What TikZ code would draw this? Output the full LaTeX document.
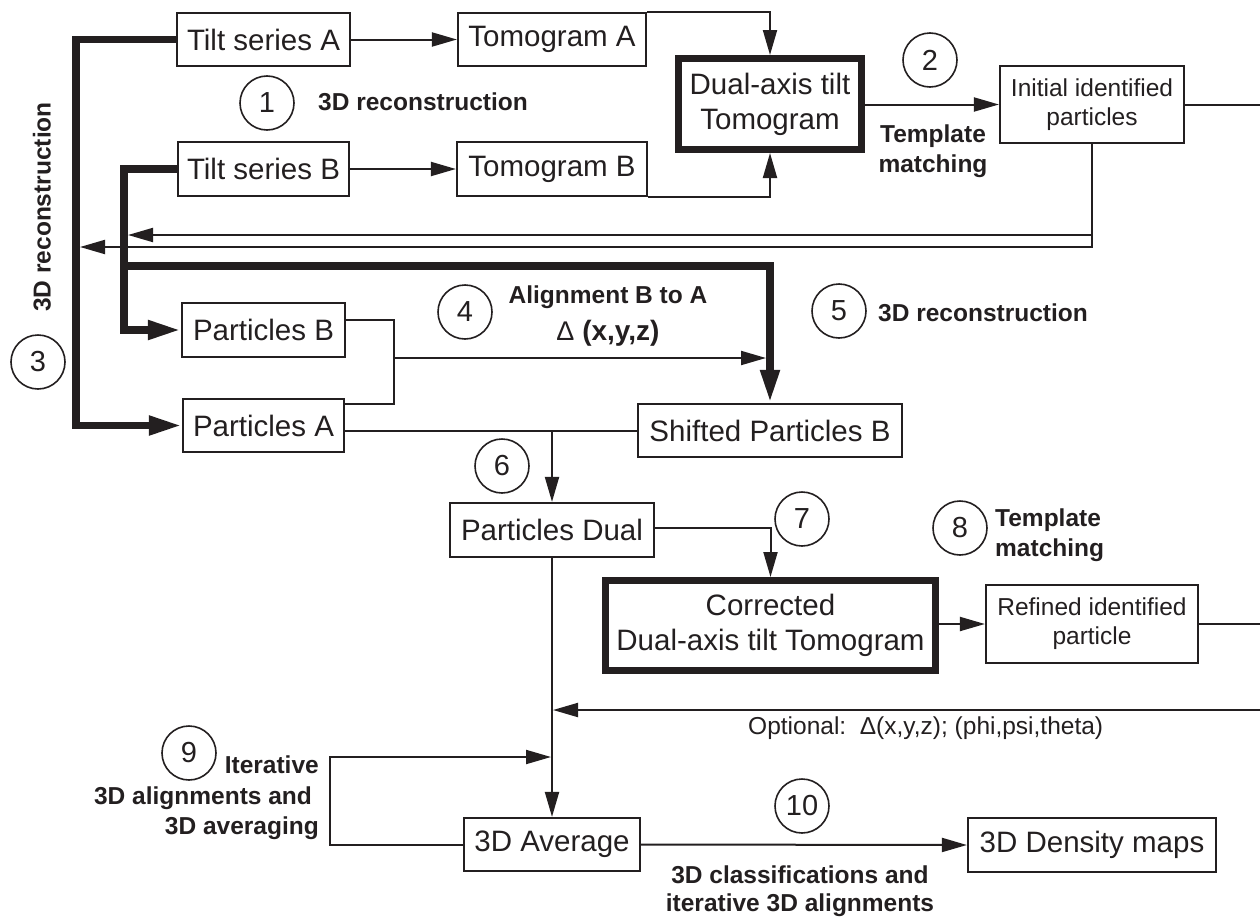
\documentclass[tikz,border=0pt]{standalone}
\usepackage{fontspec}
\setmainfont{Liberation Sans}
\usetikzlibrary{arrows.meta}
\definecolor{ink}{RGB}{35,31,32}
\newcommand\fsz[2]{\fontsize{#1}{#2}\selectfont}
\begin{document}
\begin{tikzpicture}[x=1pt,y=-1pt,
  box/.style={draw=ink, line width=2.2pt, inner sep=0pt, align=center, text=ink, font=\fsz{29.5}{35}},
  smallbox/.style={box, font=\fsz{24.5}{29}},
  bigbox/.style={box, line width=7pt},
  num/.style={circle, draw=ink, line width=1.6pt, minimum size=54pt, inner sep=0pt, text=ink, font=\fsz{29}{29}},
  lbl/.style={inner sep=0pt, text=ink, font=\bfseries\fsz{24.5}{30}},
  con/.style={draw=ink, line width=2pt, line join=miter},
  arr/.style={con, -{Triangle[length=25pt,width=14pt]}},
  thk/.style={draw=ink, line width=7.5pt, line join=miter},
  tharr/.style={thk, -{Triangle[length=33pt,width=18pt]}}
]
\useasboundingbox (0,0) rectangle (1260,918);

% boxes
\node[box, minimum width=173pt, minimum height=53pt] (tsA) at (263.5,39.5) {Tilt series A};
\node[box, minimum width=171pt, minimum height=54pt] (tsB) at (263.5,169) {Tilt series B};
\node[box, minimum width=188pt, minimum height=53pt] (tomA) at (552,39.5) {Tomogram A};
\node[box, minimum width=190pt, minimum height=54pt] (tomB) at (552,169) {Tomogram B};
\node[bigbox, minimum width=183pt, minimum height=91pt] (dual) at (770,104) {Dual-axis tilt\\Tomogram};
\node[smallbox, minimum width=184pt, minimum height=77pt] (init) at (1092,104.5) {Initial identified\\particles};
\node[box, minimum width=163pt, minimum height=54pt] (pB) at (263.5,330) {Particles B};
\node[box, minimum width=161pt, minimum height=53pt] (pA) at (263.5,425.5) {Particles A};
\node[box, minimum width=264pt, minimum height=53pt] (shB) at (770,430.5) {Shifted Particles B};
\node[box, minimum width=204pt, minimum height=54pt] (pD) at (552,530) {Particles Dual};
\node[bigbox, minimum width=330pt, minimum height=90pt] (corr) at (770.5,625.5) {Corrected\\Dual-axis tilt Tomogram};
\node[smallbox, minimum width=212pt, minimum height=78pt] (ref) at (1092,624) {Refined identified\\particle};
\node[box, minimum width=176pt, minimum height=53pt] (avg) at (552,844.5) {3D Average};
\node[box, minimum width=248pt, minimum height=54pt] (dens) at (1092,845) {3D Density maps};

% numbered circles
\node[num] (n1) at (267,103) {1};
\node[num] (n2) at (930,60) {2};
\node[num] (n3) at (38,362) {3};
\node[num] (n4) at (465,312) {4};
\node[num] (n5) at (839,311) {5};
\node[num] (n6) at (502,466) {6};
\node[num] (n7) at (802,519) {7};
\node[num] (n8) at (960,528) {8};
\node[num] (n9) at (189,753) {9};
\node[num] (n10) at (802,806) {10};

% labels
\node[lbl, anchor=west] (l1) at (318,102) {3D reconstruction};
\node[lbl, align=center] (l2) at (933,151) {Template\\matching};
\node[lbl, rotate=90] (l3) at (42,207) {3D reconstruction};
\node[lbl] (l4a) at (608,297) {Alignment B to A};
\node[lbl, font=\bfseries\fsz{28}{30}] (l4b) at (608,333) {{\mdseries\fsz{27}{30}Δ} (x,y,z)};
\node[lbl, anchor=west] (l5) at (878,313) {3D reconstruction};
\node[lbl, anchor=west, align=left] (l8) at (995,535) {Template\\matching};
\node[inner sep=0pt, anchor=west, text=ink, font=\fsz{24.5}{30}] (lopt) at (748,728) {Optional:\ \ Δ(x,y,z); (phi,psi,theta)};
\node[lbl, anchor=east, align=right, font=\bfseries\fsz{24.5}{30.5}] (l9) at (319,798) {Iterative\\3D alignments and\kern0.28em\\3D averaging};
\node[lbl, align=center, font=\bfseries\fsz{24.5}{28}] (l10) at (800,891) {3D classifications and\\iterative 3D alignments};

% coordinates
\coordinate (cA) at (76,39.5);
\coordinate (cB) at (124,169);
\coordinate (bS) at (124,266);
\coordinate (bE) at (770,266);
\coordinate (fbA) at (80,247);
\coordinate (fbB) at (128,235);
\coordinate (jx) at (394,358);
\coordinate (aTip) at (766,358);
\coordinate (j6) at (552,430.5);
\coordinate (initR) at (1260,104.5);
\coordinate (refR) at (1260,624);
\coordinate (optR) at (1260,710);
\coordinate (optTip) at (553,710);
\coordinate (loopC) at (330,757);
\coordinate (loopTip) at (551,757);

% thick connectors
\draw[tharr] (tsA.west) -- (cA) |- (pA.west);
\draw[tharr] (tsB.west) -- (cB) |- (pB.west);
\draw[tharr] (bS) -- (bE) -- (shB.north);

% thin connectors
\draw[arr] (tsA.east) -- (tomA.west);
\draw[arr] (tsB.east) -- (tomB.west);
\draw[arr] (tomA.north east) -| (dual.north);
\draw[arr] (tomB.south east) -| (dual.south);
\draw[arr] (dual.east |- init.west) -- (init.west);
\draw[con] (init.east) -- (initR);
\draw[arr] (init.south) |- (fbA);
\draw[arr] (init.south |- fbB) -- (fbB);
\draw[con] ([yshift=10pt]pB.east) -| (jx) |- ([yshift=21.5pt]pA.east);
\draw[arr] (jx) -- (aTip);
\draw[con] ([yshift=-5pt]pA.east) -- (shB.west);
\draw[arr] (j6) -- (pD.north);
\draw[arr] ([yshift=2pt]pD.east) -| (corr.north);
\draw[arr] (corr.east |- ref.west) -- (ref.west);
\draw[con] (ref.east) -- (refR);
\draw[arr] (pD.south) -- (avg.north);
\draw[arr] (optR) -- (optTip);
\draw[arr] (avg.west) -| (loopC) -- (loopTip);
\draw[arr] (avg.east) -- (dens.west);
\end{tikzpicture}
\end{document}
